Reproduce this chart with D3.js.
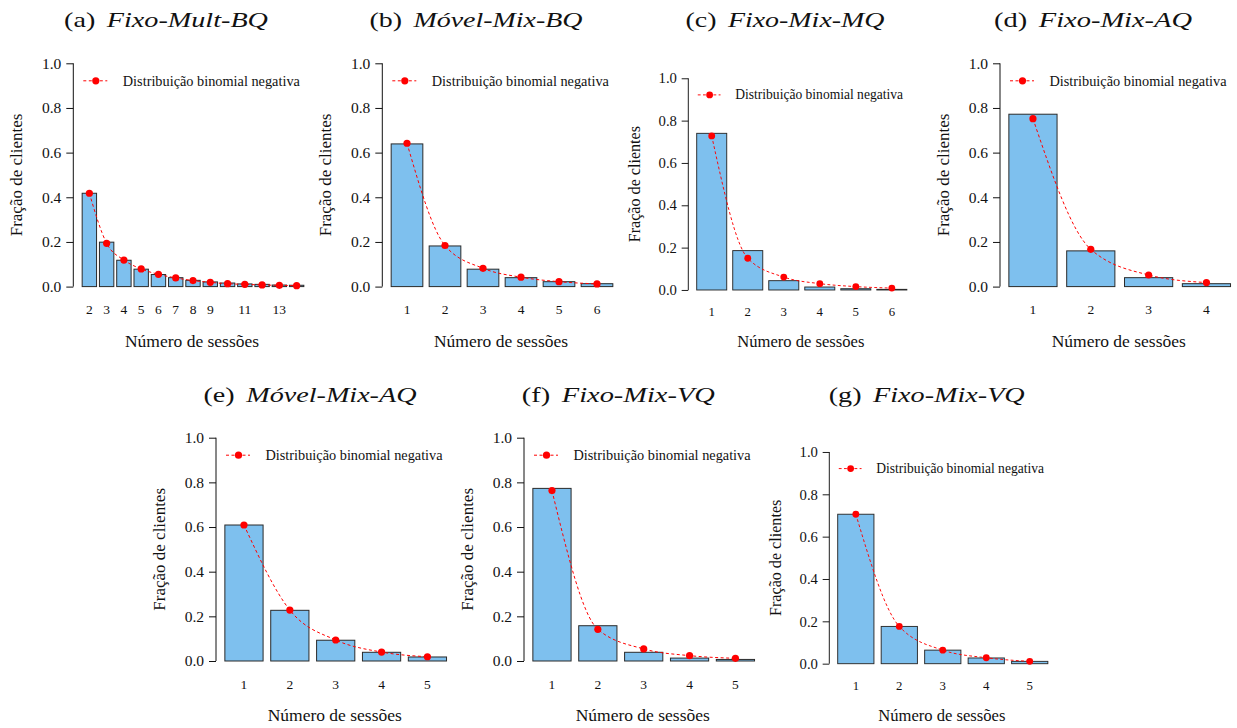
<!DOCTYPE html>
<html>
<head>
<meta charset="utf-8">
<script src="https://cdn.jsdelivr.net/npm/d3@7"></script>
<style>
  html, body { margin: 0; padding: 0; background: #ffffff; }
  svg { display: block; }
  text { font-family: "Liberation Serif", "Times New Roman", serif; fill: #111; }
</style>
</head>
<body>
<svg id="chart" width="1237" height="728"></svg>
<script>
// ---- data: observed fraction of clients per number of sessions, and negative binomial fit ----
const titleLetters = ["(a)", "(b)", "(c)", "(d)", "(e)", "(f)", "(g)"];
const titleNames = ["Fixo-Mult-BQ", "Móvel-Mix-BQ", "Fixo-Mix-MQ", "Fixo-Mix-AQ", "Móvel-Mix-AQ", "Fixo-Mix-VQ", "Fixo-Mix-VQ"];

const sessionsA = [2, 3, 4, 5, 6, 7, 8, 9, 10, 11, 12, 13, 14];
const ticksA = ["2", "3", "4", "5", "6", "7", "8", "9", "", "11", "", "13", ""];
const observedA = [0.418, 0.199, 0.118, 0.078, 0.054, 0.040, 0.028, 0.021, 0.016, 0.012, 0.010, 0.007, 0.006];
const fittedA = [0.418, 0.194, 0.119, 0.079, 0.055, 0.039, 0.027, 0.019, 0.013, 0.010, 0.0075, 0.0055, 0.004];

const sessionsB = [1, 2, 3, 4, 5, 6];
const ticksB = ["1", "2", "3", "4", "5", "6"];
const observedB = [0.639, 0.182, 0.078, 0.040, 0.022, 0.013];
const fittedB = [0.642, 0.184, 0.082, 0.042, 0.022, 0.012];

const sessionsC = [1, 2, 3, 4, 5, 6];
const ticksC = ["1", "2", "3", "4", "5", "6"];
const observedC = [0.740, 0.186, 0.044, 0.014, 0.006, 0.003];
const fittedC = [0.728, 0.150, 0.061, 0.030, 0.016, 0.009];

const sessionsD = [1, 2, 3, 4];
const ticksD = ["1", "2", "3", "4"];
const observedD = [0.772, 0.160, 0.040, 0.013];
const fittedD = [0.752, 0.167, 0.052, 0.018];

const sessionsE = [1, 2, 3, 4, 5];
const ticksE = ["1", "2", "3", "4", "5"];
const observedE = [0.609, 0.227, 0.093, 0.039, 0.018];
const fittedE = [0.609, 0.228, 0.094, 0.040, 0.019];

const sessionsF = [1, 2, 3, 4, 5];
const ticksF = ["1", "2", "3", "4", "5"];
const observedF = [0.773, 0.158, 0.039, 0.013, 0.007];
const fittedF = [0.763, 0.142, 0.054, 0.024, 0.012];

const sessionsG = [1, 2, 3, 4, 5];
const ticksG = ["1", "2", "3", "4", "5"];
const observedG = [0.706, 0.176, 0.064, 0.027, 0.011];
const fittedG = [0.706, 0.176, 0.064, 0.028, 0.011];

const yTicks = [0, 0.2, 0.4, 0.6, 0.8, 1.0];
const legendLabel = "Distribuição binomial negativa";
const xAxisTitle = "Número de sessões";
const yAxisTitle = "Fração de clientes";

// ---- layout of the seven panels (plot origin = y axis at value 1.0) ----
const panelLayout = [
  { ox: 73.3,  oy: 63.3,  s: 1,     tx: 166,   ty: 27,  tw: 204 },
  { ox: 382.3, oy: 63.3,  s: 1,     tx: 476,   ty: 27,  tw: 213 },
  { ox: 688.3, oy: 78.3,  s: 0.948, tx: 785,   ty: 27,  tw: 199 },
  { ox: 1000,  oy: 63.3,  s: 1,     tx: 1093,  ty: 27,  tw: 198 },
  { ox: 216,   oy: 437.7, s: 1,     tx: 310,   ty: 402, tw: 213 },
  { ox: 524,   oy: 437.7, s: 1,     tx: 618.3, ty: 402, tw: 193 },
  { ox: 829.3, oy: 452,   s: 0.948, tx: 926.7, ty: 402, tw: 196 }
];

const panelData = [
  [sessionsA, ticksA, observedA, fittedA],
  [sessionsB, ticksB, observedB, fittedB],
  [sessionsC, ticksC, observedC, fittedC],
  [sessionsD, ticksD, observedD, fittedD],
  [sessionsE, ticksE, observedE, fittedE],
  [sessionsF, ticksF, observedF, fittedF],
  [sessionsG, ticksG, observedG, fittedG]
];

const PW = 239.4, PH = 223.3;   // plot region size at scale 1
const barFill = "#7EC0EE", barStroke = "#2a2a2a", fitColor = "#ff0000";

const svg = d3.select("#chart");

panelData.forEach(([sessions, ticks, observed, fitted], i) => {
  const L = panelLayout[i];

  // panel caption
  const title = svg.append("text")
    .attr("x", L.tx).attr("y", L.ty)
    .attr("text-anchor", "middle")
    .attr("font-size", 22)
    .attr("textLength", L.tw)
    .attr("lengthAdjust", "spacingAndGlyphs");
  title.append("tspan").text(titleLetters[i]);
  title.append("tspan").attr("dx", 9).attr("font-style", "italic").text(titleNames[i]);

  const g = svg.append("g")
    .attr("transform", `translate(${L.ox},${L.oy}) scale(${L.s})`);

  const x = d3.scaleBand()
    .domain(sessions)
    .range([PW * 0.04 / 1.08, PW * 1.04 / 1.08])
    .paddingInner(1 / 6)
    .paddingOuter(0);
  const y = d3.scaleLinear().domain([0, 1]).range([PH, 0]);

  // bars
  g.selectAll("rect.bar")
    .data(sessions.map((k, j) => ({ k, v: observed[j] })))
    .join("rect")
    .attr("class", "bar")
    .attr("x", d => x(d.k))
    .attr("y", d => y(d.v))
    .attr("width", x.bandwidth())
    .attr("height", d => y(0) - y(d.v))
    .attr("fill", barFill)
    .attr("stroke", barStroke)
    .attr("stroke-width", 1);

  // fitted distribution curve and points
  const pts = sessions.map((k, j) => [x(k) + x.bandwidth() / 2, y(fitted[j])]);
  g.append("path")
    .attr("d", d3.line().curve(d3.curveMonotoneX)(pts))
    .attr("fill", "none")
    .attr("stroke", fitColor)
    .attr("stroke-width", 1)
    .attr("stroke-dasharray", "3,2.5");
  g.selectAll("circle.fit")
    .data(pts)
    .join("circle")
    .attr("class", "fit")
    .attr("cx", d => d[0]).attr("cy", d => d[1])
    .attr("r", 3.6)
    .attr("fill", fitColor);

  // y axis
  const yAxis = d3.axisLeft(y).tickValues(yTicks).tickFormat(d3.format(".1f")).tickSize(7).tickPadding(5);
  const ya = g.append("g").call(yAxis);
  ya.select(".domain").attr("stroke", "#111").attr("d", `M0,${y(0)}V${y(1)}`);
  ya.selectAll(".tick line").attr("stroke", "#111");
  ya.selectAll(".tick text")
    .attr("font-family", "Liberation Serif, serif")
    .attr("font-size", 15.5)
    .attr("fill", "#111");

  // x category labels (no axis line)
  const xa = g.append("g").attr("transform", `translate(0,${PH})`)
    .call(d3.axisBottom(x).tickFormat((d, j) => ticks[j]).tickSize(0).tickPadding(18));
  xa.select(".domain").remove();
  xa.selectAll(".tick text")
    .attr("font-family", "Liberation Serif, serif")
    .attr("font-size", 13.5)
    .attr("fill", "#111");

  // axis titles
  g.append("text")
    .attr("x", PW / 2 - 1).attr("y", PH + 60)
    .attr("text-anchor", "middle")
    .attr("font-size", 17.5)
    .text(xAxisTitle);
  g.append("text")
    .attr("transform", `translate(-51,${PH / 2}) rotate(-90)`)
    .attr("text-anchor", "middle")
    .attr("font-size", 17)
    .text(yAxisTitle);

  // legend
  const lg = g.append("g").attr("transform", "translate(0,17.5)");
  lg.append("line")
    .attr("x1", 10).attr("x2", 34).attr("y1", 0).attr("y2", 0)
    .attr("stroke", fitColor).attr("stroke-width", 1).attr("stroke-dasharray", "3,2.5");
  lg.append("circle").attr("cx", 22.5).attr("cy", 0).attr("r", 3.6).attr("fill", fitColor);
  lg.append("text")
    .attr("x", 49.5).attr("y", 0).attr("dy", "0.33em")
    .attr("font-size", 14.3)
    .text(legendLabel);
});
</script>
</body>
</html>
